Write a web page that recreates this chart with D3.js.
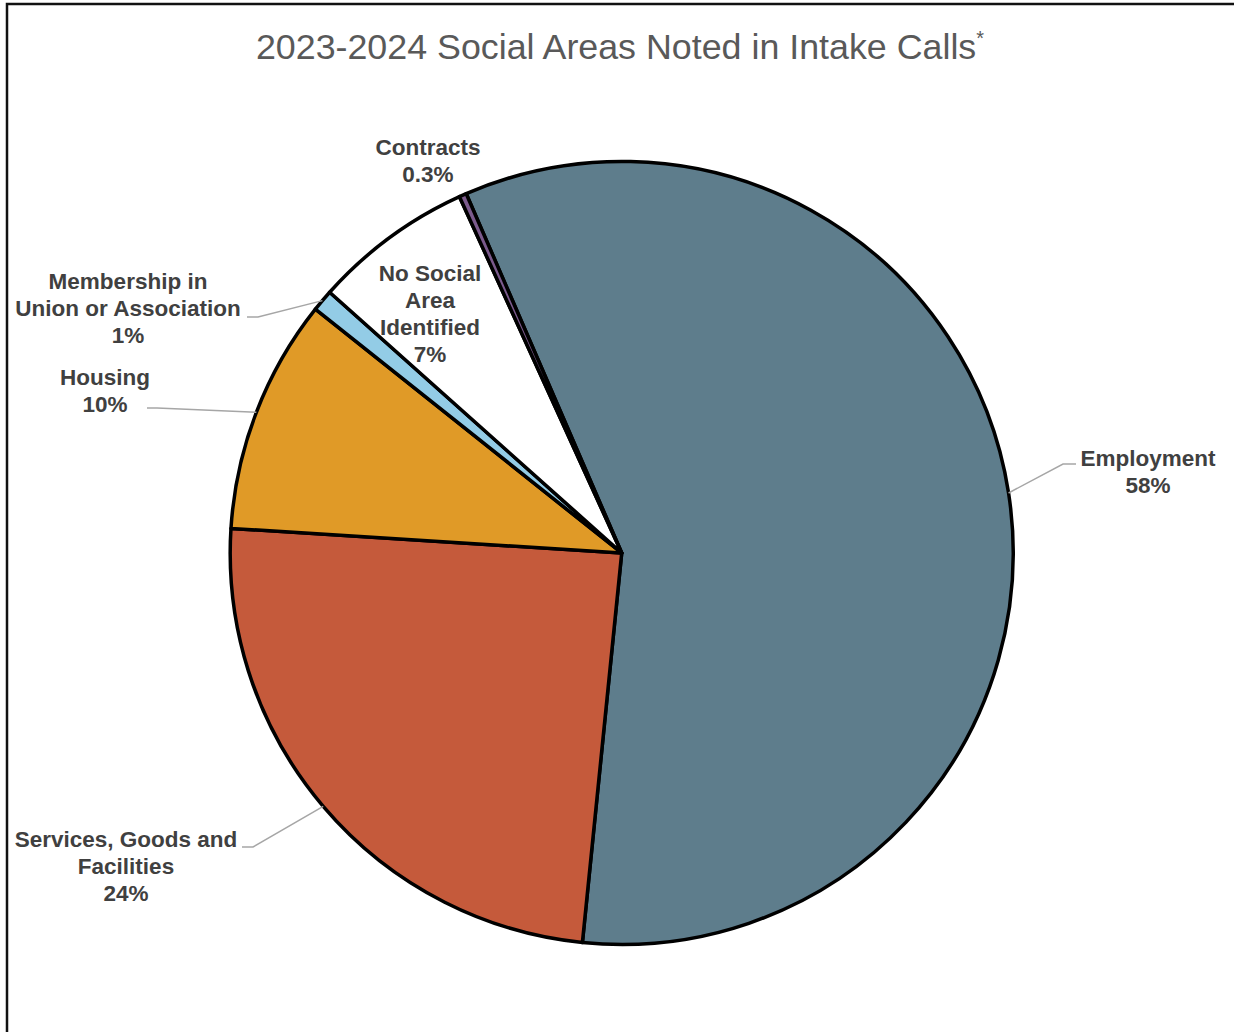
<!DOCTYPE html>
<html>
<head>
<meta charset="utf-8">
<script src="https://cdn.jsdelivr.net/npm/d3@7"></script>
<style>
  html, body { margin: 0; padding: 0; background: #ffffff; }
  svg { display: block; }
</style>
</head>
<body>
<script>
// Social areas noted in intake calls, 2023-2024 (share of calls, %)
const categories = [
  "Employment",
  "Services, Goods and Facilities",
  "Housing",
  "Membership in Union or Association",
  "No Social Area Identified",
  "Contracts"
];
const shares = [58.1, 24.4, 9.7, 0.9, 6.6, 0.3];
const colors = ["#5e7d8c", "#c55a3b", "#e09a27", "#93cce6", "#ffffff", "#7b5a8c"];

// Label text lines for each slice (wrapped as drawn)
const labelLines = [
  ["Employment"],
  ["Services, Goods and", "Facilities"],
  ["Housing"],
  ["Membership in", "Union or Association"],
  ["No Social", "Area", "Identified"],
  ["Contracts"]
];

const W = 1234, H = 1032;
const cx = 621.7, cy = 553, R = 391.5;
const firstSliceAngle = -23.4; // degrees, clockwise from 12 o'clock

// Label placement: centre x, first line centre y, optional leader elbow/end
const labelLayout = [
  { x: 1148, y: 458, elbow: [1063, 464], end: [1076, 464] },
  { x: 126,  y: 839, elbow: [253, 847],  end: [242, 847] },
  { x: 105,  y: 377, elbow: [157, 408],  end: [147, 408] },
  { x: 128,  y: 281, elbow: [258, 317],  end: [247, 317] },
  { x: 430,  y: 273 },
  { x: 428,  y: 147 }
];

const fmtShare = v => (v < 0.5 ? d3.format(".1f")(v) : d3.format(".0f")(v)) + "%";

const svg = d3.select("body").append("svg")
  .attr("width", W).attr("height", H)
  .attr("viewBox", `0 0 ${W} ${H}`);

svg.append("rect").attr("width", W).attr("height", H).attr("fill", "#ffffff");

// Chart frame (runs off the right and bottom edges)
svg.append("rect")
  .attr("x", 7).attr("y", 4)
  .attr("width", W + 20).attr("height", H + 20)
  .attr("fill", "none")
  .attr("stroke", "#111")
  .attr("stroke-width", 2.5);

// Title
const title = svg.append("text")
  .attr("x", 620).attr("y", 59)
  .attr("text-anchor", "middle")
  .attr("font-family", "'Liberation Sans', Arial, sans-serif")
  .attr("font-size", 35.8)
  .attr("fill", "#595959");
title.append("tspan").text("2023-2024 Social Areas Noted in Intake Calls");
title.append("tspan").attr("dy", -14).attr("font-size", 20).text("*");

const data = categories.map((c, i) => ({ name: c, value: shares[i], color: colors[i], lines: labelLines[i], layout: labelLayout[i] }));

const a0 = firstSliceAngle * Math.PI / 180;
const pie = d3.pie().sort(null).value(d => d.value)
  .startAngle(a0).endAngle(a0 + 2 * Math.PI);
const arcs = pie(data);

const arc = d3.arc().innerRadius(0).outerRadius(R);
const edge = d3.arc().innerRadius(R).outerRadius(R);

const g = svg.append("g").attr("transform", `translate(${cx},${cy})`);

g.selectAll("path.slice")
  .data(arcs)
  .join("path")
  .attr("class", "slice")
  .attr("d", arc)
  .attr("fill", d => d.data.color)
  .attr("stroke", "#000")
  .attr("stroke-width", 3.5)
  .attr("stroke-linejoin", "round");

// Leader lines from the slice's outer edge to its label
svg.selectAll("polyline.leader")
  .data(arcs.filter(d => d.data.layout.elbow))
  .join("polyline")
  .attr("class", "leader")
  .attr("points", d => {
    const [ex, ey] = edge.centroid(d);
    return [[cx + ex, cy + ey], d.data.layout.elbow, d.data.layout.end].map(p => p.join(",")).join(" ");
  })
  .attr("fill", "none")
  .attr("stroke", "#a6a6a6")
  .attr("stroke-width", 1.5);

// Labels: category name lines plus the share
const lineH = 27;
const labels = svg.selectAll("text.label")
  .data(arcs)
  .join("text")
  .attr("class", "label")
  .attr("text-anchor", "middle")
  .attr("dominant-baseline", "central")
  .attr("font-family", "'Liberation Sans', Arial, sans-serif")
  .attr("font-weight", "bold")
  .attr("font-size", 22.5)
  .attr("fill", "#404040");

labels.each(function(d) {
  const t = d3.select(this);
  const lines = d.data.lines.concat([fmtShare(d.data.value)]);
  lines.forEach((ln, i) => {
    t.append("tspan")
      .attr("x", d.data.layout.x)
      .attr("y", d.data.layout.y + i * lineH)
      .text(ln);
  });
});
</script>
</body>
</html>
